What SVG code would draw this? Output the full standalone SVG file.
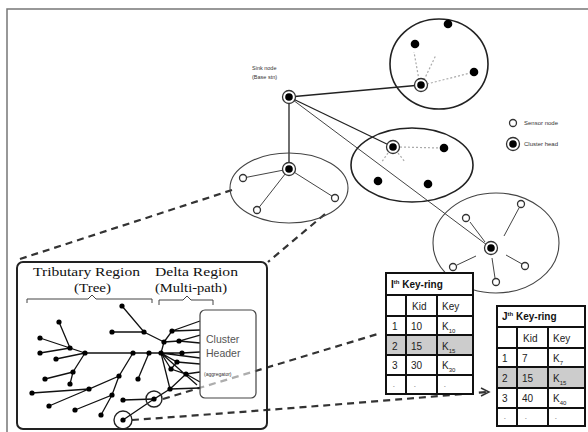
<svg xmlns="http://www.w3.org/2000/svg" width="588" height="432" viewBox="0 0 588 432">
<style>
.frame{stroke:#777;stroke-width:1.5;fill:none}
.solid{stroke:#222;stroke-width:1.3;fill:none}
.thin{stroke:#444;stroke-width:1;fill:none}
.dot{stroke:#aaa;stroke-width:1.2;stroke-dasharray:2 2;fill:none}
.dash{stroke:#333;stroke-width:2.2;stroke-dasharray:7 5;fill:none}
.ell{stroke:#222;stroke-width:1.6;fill:none}
.ell2{stroke:#444;stroke-width:1.1;fill:none}
.sensor{fill:#fff;stroke:#333;stroke-width:1.3}
.chO{fill:#fff;stroke:#333;stroke-width:1.3}
.chI{fill:#000}
.blk{fill:#000}
.tree{stroke:#111;stroke-width:1.3;fill:none}
.tn{fill:#000}
.small{font-family:"Liberation Sans",Arial,sans-serif;font-size:5px;fill:#333}
.lbl{font-family:"Liberation Sans",Arial,sans-serif;font-size:5.5px;fill:#333}
.leg{font-family:"Liberation Sans",Arial,sans-serif;font-size:6px;fill:#333}
.serif{font-family:"Liberation Serif","Times New Roman",serif;font-size:13.5px;fill:#111}
.ch{font-family:"Liberation Sans",Arial,sans-serif;font-size:10.5px;fill:#555}
.tb{font-family:"Liberation Sans",Arial,sans-serif;font-size:10px;fill:#222}
.tt{font-family:"Liberation Sans",Arial,sans-serif;font-size:10px;font-weight:bold;fill:#111}
.grid{stroke:#111;stroke-width:2;fill:none}
</style>
<defs>
<g id="chead"><circle r="6.5" class="chO"/><circle r="3.8" class="chI"/></g>
</defs>

<path class="frame" d="M7,432 L7,9 L588,9"/>

<g id="connectors">
  <line class="solid" x1="289" y1="97" x2="289" y2="169"/>
  <line class="solid" x1="289" y1="97" x2="421" y2="85"/>
  <line class="solid" x1="289" y1="97" x2="393" y2="147"/>
  <line class="thin" x1="289" y1="97" x2="491" y2="248"/>
  <line class="thin" x1="289" y1="169" x2="243" y2="178"/>
  <line class="thin" x1="289" y1="169" x2="257" y2="210"/>
  <line class="thin" x1="289" y1="169" x2="335" y2="198"/>
  <line class="dot" x1="419" y1="80" x2="414" y2="52"/>
  <line class="dot" x1="424" y1="80" x2="436" y2="55"/>
  <line class="dot" x1="427" y1="84" x2="470" y2="73"/>
  <line class="dot" x1="400" y1="147" x2="440" y2="148"/>
  <line class="dot" x1="388" y1="153" x2="381" y2="163"/>
  <line class="dot" x1="398" y1="153" x2="405" y2="162"/>
  <line class="thin" x1="470" y1="222" x2="485" y2="242"/>
  <line class="thin" x1="519" y1="208" x2="504" y2="236"/>
  <line class="thin" x1="457" y1="265" x2="476" y2="256"/>
  <line class="thin" x1="522" y1="264" x2="506" y2="255"/>
  <line class="thin" x1="495" y1="278" x2="492" y2="258"/>
  <line class="dash" x1="232" y1="190" x2="17" y2="260"/>
  <line class="dash" x1="325" y1="214" x2="268" y2="262"/>
  <line class="dash" x1="163" y1="399" x2="381" y2="333"/>
  <path class="dash" d="M132,420 Q300,408 487,392"/>
  <path d="M481,388 L489,392 L481,396" fill="none" stroke="#333" stroke-width="1.5"/>
</g>

<ellipse id="cluster-top" class="ell" cx="439" cy="64" rx="49" ry="45"/>
<ellipse id="cluster-mid" class="ell" cx="412" cy="165" rx="61" ry="37"/>
<ellipse id="cluster-left" class="ell2" cx="289" cy="188" rx="59" ry="35"/>
<ellipse id="cluster-br" class="ell2" cx="496" cy="243" rx="63" ry="50"/>

<g id="sink">
  <text class="lbl" x="252" y="70">Sink node</text>
  <text class="lbl" x="252" y="79">(Base stn)</text>
  <use href="#chead" x="289" y="97"/>
</g>
<g id="left-cluster-nodes">
  <use href="#chead" x="289" y="169"/>
  <circle class="sensor" cx="243" cy="178" r="3.5"/>
  <circle class="sensor" cx="257" cy="210" r="3.5"/>
  <circle class="sensor" cx="335" cy="198" r="3.5"/>
</g>
<g id="top-cluster-nodes">
  <use href="#chead" x="421" y="85"/>
  <circle class="blk" cx="448" cy="24" r="4.3"/>
  <circle class="blk" cx="415" cy="44" r="4.3"/>
  <circle class="blk" cx="474" cy="72" r="4.3"/>
</g>
<g id="mid-cluster-nodes">
  <use href="#chead" x="393" y="147"/>
  <circle class="blk" cx="444" cy="148" r="4.3"/>
  <circle class="blk" cx="378" cy="181" r="4.3"/>
  <circle class="blk" cx="428" cy="184" r="4.3"/>
</g>
<g id="br-cluster-nodes">
  <use href="#chead" x="491" y="248"/>
  <circle class="sensor" cx="466" cy="218" r="3.5"/>
  <circle class="sensor" cx="521" cy="204" r="3.5"/>
  <circle class="sensor" cx="453" cy="267" r="3.5"/>
  <circle class="sensor" cx="525" cy="266" r="3.5"/>
  <circle class="sensor" cx="496" cy="282" r="3.5"/>
</g>
<g id="legend">
  <circle class="sensor" cx="513" cy="123" r="3.5"/>
  <text class="leg" x="524" y="125">Sensor node</text>
  <use href="#chead" x="513" y="144"/>
  <text class="leg" x="524" y="146">Cluster head</text>
</g>

<g id="detail-box">
  <rect x="17" y="262" width="250" height="167" rx="6" fill="none" stroke="#222" stroke-width="2"/>
  <text class="serif" x="33" y="276" textLength="107" lengthAdjust="spacingAndGlyphs">Tributary Region</text>
  <text class="serif" x="74" y="292" textLength="37" lengthAdjust="spacingAndGlyphs">(Tree)</text>
  <text class="serif" x="155" y="276" textLength="83" lengthAdjust="spacingAndGlyphs">Delta Region</text>
  <text class="serif" x="155" y="292" textLength="72" lengthAdjust="spacingAndGlyphs">(Multi-path)</text>
  <path class="thin" d="M27,303 L27,299 L88,299 L92,295 L96,299 L152,299 L152,303"/>
  <path class="thin" d="M159,305 L159,300 L183,300 L187,296 L191,300 L213,300 L213,305"/>
  <g id="tree" class="tree">
    <path d="M122,306 L144,332 L164,342 M112,332 L144,332"/>
    <path d="M59,322 L70,348 L85,353 M40,338 L70,348 M40,353 L70,348 M56,359 L85,353"/>
    <path d="M85,353 L161,353"/>
    <path d="M85,353 L73,372 L70,384 M45,379 L73,372"/>
    <path d="M133,353 L119,376 L89,389 L32,393 M49,406 L89,389 M119,376 L112,395 L75,410 M112,395 L101,415"/>
    <path d="M149,353 L138,379"/>
    <path d="M164,342 L172,331 L200,321 M172,331 L200,330 M164,342 L179,341 L200,335 M179,341 L200,343"/>
    <path d="M164,342 L161,353 L182,353 L200,352 M161,353 L200,358 M161,353 L177,362 L200,364 M161,353 L171,369 L186,374 L200,372 M186,374 L200,382 M161,353 L197,385"/>
    <path d="M161,353 L170,389 L186,374 M170,389 L200,388 M177,362 L171,369"/>
    <path d="M123,400 L154,399 L170,389 M123,420 L154,399"/>
  </g>
  <g class="tn">
    <circle cx="122" cy="306" r="2.6"/><circle cx="144" cy="332" r="2.6"/><circle cx="112" cy="332" r="2.6"/><circle cx="164" cy="342" r="2.6"/>
    <circle cx="59" cy="322" r="2.6"/><circle cx="40" cy="338" r="2.6"/><circle cx="70" cy="348" r="2.6"/><circle cx="40" cy="353" r="2.6"/>
    <circle cx="56" cy="359" r="2.6"/><circle cx="85" cy="353" r="2.6"/><circle cx="133" cy="353" r="2.6"/><circle cx="149" cy="353" r="2.6"/>
    <circle cx="161" cy="353" r="2.6"/><circle cx="172" cy="331" r="2.6"/><circle cx="179" cy="341" r="2.6"/><circle cx="182" cy="353" r="2.6"/>
    <circle cx="177" cy="362" r="2.6"/><circle cx="171" cy="369" r="2.6"/><circle cx="186" cy="374" r="2.6"/><circle cx="170" cy="389" r="2.6"/>
    <circle cx="119" cy="376" r="2.6"/><circle cx="138" cy="379" r="2.6"/><circle cx="73" cy="372" r="2.6"/><circle cx="45" cy="379" r="2.6"/>
    <circle cx="70" cy="384" r="2.6"/><circle cx="89" cy="389" r="2.6"/><circle cx="32" cy="393" r="2.6"/><circle cx="112" cy="395" r="2.6"/>
    <circle cx="49" cy="406" r="2.6"/><circle cx="75" cy="410" r="2.6"/><circle cx="101" cy="415" r="2.6"/><circle cx="123" cy="400" r="2.6"/>
    <circle cx="154" cy="399" r="2.6"/><circle cx="123" cy="420" r="2.6"/>
  </g>
  <circle cx="154" cy="399" r="8" fill="none" stroke="#222" stroke-width="1.4"/>
  <circle cx="123" cy="420" r="9" fill="none" stroke="#222" stroke-width="1.4"/>
</g>

<g id="cluster-header">
  <rect x="200" y="310" width="56" height="88" rx="5" fill="#fff" fill-opacity="0.6" stroke="#444" stroke-width="1.2"/>
  <text class="ch" x="206" y="343">Cluster</text>
  <text class="ch" x="206" y="357">Header</text>
  <text class="small" x="204" y="376">(aggregator)</text>
</g>

<g id="table-i">
  <rect x="386" y="273" width="87" height="121" fill="#fff"/>
  <rect x="387" y="336" width="86" height="19" fill="#ccc"/>
  <rect x="386" y="273" width="87" height="121" class="grid"/>
  <path class="grid" d="M386,295 H473 M386,316 H473 M386,335 H473 M386,355 H473 M386,375 H473 M406,295 V394 M437,295 V394"/>
  <text class="tt" x="391" y="288">I<tspan font-size="6" dy="-4">th</tspan><tspan dy="4"> Key-ring</tspan></text>
  <text class="tb" x="412" y="310">Kid</text><text class="tb" x="442" y="310">Key</text>
  <text class="tb" x="392" y="330">1</text><text class="tb" x="411" y="330">10</text><text class="tb" x="442" y="330">K<tspan font-size="6" dy="3">10</tspan></text>
  <text class="tb" x="392" y="350">2</text><text class="tb" x="411" y="350">15</text><text class="tb" x="442" y="350">K<tspan font-size="6" dy="3">15</tspan></text>
  <text class="tb" x="392" y="369">3</text><text class="tb" x="411" y="369">30</text><text class="tb" x="442" y="369">K<tspan font-size="6" dy="3">30</tspan></text>
  <text class="small" x="393" y="388">-</text><text class="small" x="414" y="388">-</text><text class="small" x="444" y="388">-</text>
</g>

<g id="table-j">
  <rect x="497" y="306" width="88" height="120" fill="#fff"/>
  <rect x="498" y="368" width="86" height="19" fill="#ccc"/>
  <rect x="497" y="306" width="88" height="120" class="grid"/>
  <path class="grid" d="M497,327 H585 M497,348 H585 M497,367 H585 M497,388 H585 M497,408 H585 M517,327 V426 M548,327 V426"/>
  <text class="tt" x="502" y="320">J<tspan font-size="6" dy="-4">th</tspan><tspan dy="4"> Key-ring</tspan></text>
  <text class="tb" x="523" y="342">Kid</text><text class="tb" x="553" y="342">Key</text>
  <text class="tb" x="502" y="362">1</text><text class="tb" x="522" y="362">7</text><text class="tb" x="553" y="362">K<tspan font-size="6" dy="3">7</tspan></text>
  <text class="tb" x="502" y="382">2</text><text class="tb" x="522" y="382">15</text><text class="tb" x="553" y="382">K<tspan font-size="6" dy="3">15</tspan></text>
  <text class="tb" x="502" y="402">3</text><text class="tb" x="522" y="402">40</text><text class="tb" x="553" y="402">K<tspan font-size="6" dy="3">40</tspan></text>
  <text class="small" x="504" y="420">-</text><text class="small" x="525" y="420">-</text><text class="small" x="555" y="420">-</text>
</g>
</svg>
